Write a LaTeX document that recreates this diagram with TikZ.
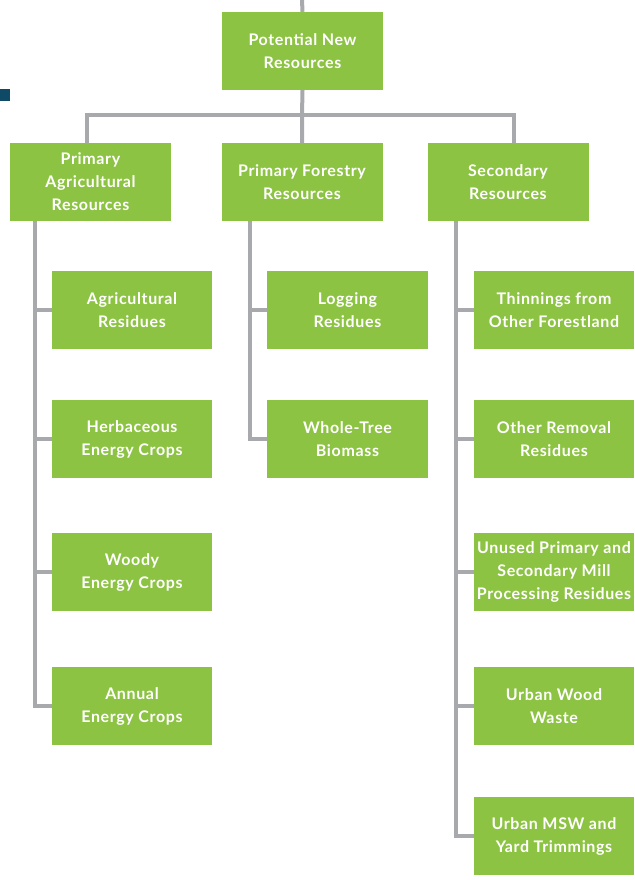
\documentclass[tikz,border=0pt]{standalone}
\usepackage{fontspec}
\setmainfont{Lato}[LetterSpace=4]
\definecolor{boxgreen}{HTML}{8DC343}
\definecolor{linegray}{HTML}{A7A9AC}
\definecolor{markblue}{HTML}{0E4A66}
\tikzset{
  box/.style={fill=boxgreen, text=white, minimum width=161, minimum height=78,
    inner sep=0pt, align=center, font=\fontsize{16}{23}\selectfont\bfseries},
  conn/.style={draw=linegray, line width=4pt}
}
\begin{document}
\begin{tikzpicture}[x=1pt,y=-1pt]
\useasboundingbox (0,0) rectangle (634,880);
\begin{scope}
\clip (0,0) rectangle (634,880);
\fill[markblue] (0,89) rectangle (10,101);
% top-level
\coordinate (topend) at (302,0);
\coordinate (hl) at (87,115);
\coordinate (hm) at (302,115);
\coordinate (hr) at (514,115);
\node[box] (top) at (302.5,51) {Potential New\\Resources};
\node[box] (agri) at (90.5,182) {Primary\\Agricultural\\Resources};
\node[box] (fore) at (302,182) {Primary Forestry\\Resources};
\node[box] (sec) at (508,182) {Secondary\\Resources};
% children
\node[box, minimum width=160] (a1) at (132,310) {Agricultural\\Residues};
\node[box, minimum width=160] (a2) at (132,439) {Herbaceous\\Energy Crops};
\node[box, minimum width=160] (a3) at (132,572) {Woody\\Energy Crops};
\node[box, minimum width=160] (a4) at (132,706) {Annual\\Energy Crops};
\node[box, minimum width=161] (f1) at (347.5,310) {Logging\\Residues};
\node[box, minimum width=161] (f2) at (347.5,439) {Whole-Tree\\Biomass};
\node[box, minimum width=160] (s1) at (554,310) {Thinnings from\\Other Forestland};
\node[box, minimum width=160] (s2) at (554,439) {Other Removal\\Residues};
\node[box, minimum width=160] (s3) at (554,572) {Unused Primary and\\Secondary Mill\\Processing Residues};
\node[box, minimum width=160] (s4) at (554,706) {Urban Wood\\Waste};
\node[box, minimum width=160] (s5) at (554,836) {Urban MSW and\\Yard Trimmings};
\end{scope}
% connectors
\draw[conn] (topend) -- (top.north);
\draw[conn] (top.south) -- (hm) -- (fore.north);
\draw[conn] (agri.north -| hl) -- (hl) -- (hr) -- (sec.north -| hr);
% agricultural trunk
\coordinate (at) at (35,221);
\draw[conn] (at) -- (35,706) -- (a4.west);
\draw[conn] (35,310) -- (a1.west);
\draw[conn] (35,439) -- (a2.west);
\draw[conn] (35,572) -- (a3.west);
% forestry trunk
\draw[conn] (250,221) -- (250,439) -- (f2.west);
\draw[conn] (250,310) -- (f1.west);
% secondary trunk
\draw[conn] (456,221) -- (456,836) -- (s5.west);
\draw[conn] (456,310) -- (s1.west);
\draw[conn] (456,439) -- (s2.west);
\draw[conn] (456,572) -- (s3.west);
\draw[conn] (456,706) -- (s4.west);
\end{tikzpicture}
\end{document}
